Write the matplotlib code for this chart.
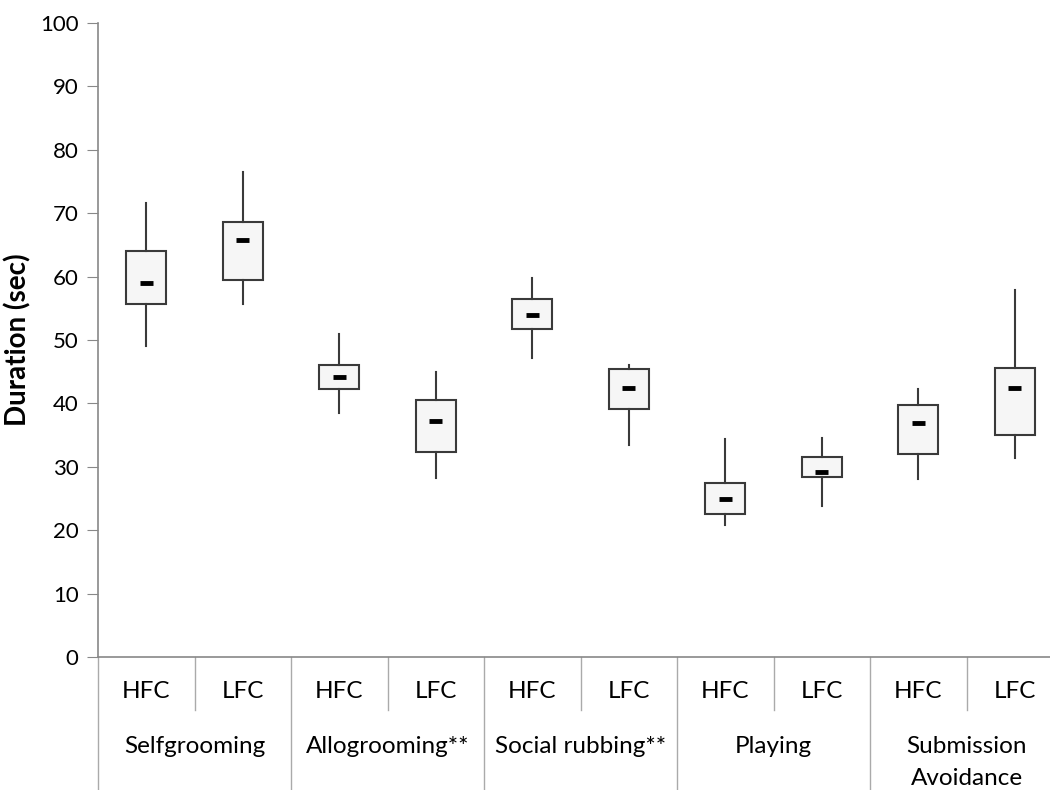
import numpy as np
import matplotlib.pyplot as plt

# 数据
groups = ['Selfgrooming', 'Allogrooming**', 'Social rubbing**', 'Playing', 'Submission\nAvoidance']
subs = ['HFC', 'LFC']

whislo = [49.1, 55.6, 38.5, 28.3, 47.2, 33.4, 20.8, 23.8, 28.0, 31.4]
q1     = [55.6, 59.5, 42.2, 32.4, 51.7, 39.1, 22.6, 28.4, 32.0, 35.0]
med    = [59.0, 65.8, 44.1, 37.3, 54.0, 42.4, 25.0, 29.2, 36.9, 42.5]
q3     = [64.0, 68.6, 46.1, 40.5, 56.4, 45.4, 27.5, 31.5, 39.7, 45.6]
whishi = [71.6, 76.5, 50.9, 45.0, 59.8, 46.0, 34.4, 34.5, 42.3, 57.9]

plt.rcParams['font.family'] = ['Lato', 'DejaVu Sans']

fig = plt.figure(figsize=(10.5, 7.9), dpi=100)
ax = fig.add_axes([98 / 1050, 133 / 790, 965 / 1050, 634 / 790])

pos = np.arange(len(med)) + 0.5
stats = []
for i in range(len(med)):
    stats.append(dict(whislo=whislo[i], q1=q1[i], med=med[i], q3=q3[i], whishi=whishi[i]))

ax.bxp(stats, positions=pos, widths=0.41, patch_artist=True, showcaps=False,
       showfliers=False,
       boxprops=dict(facecolor='#f6f6f6', edgecolor='#3a3a3a', linewidth=1.5),
       whiskerprops=dict(color='#3a3a3a', linewidth=1.5),
       medianprops=dict(visible=False))
# 中位数短横线
ax.hlines(med, pos - 0.065, pos + 0.065, color='black', linewidth=3.5, zorder=5)

ax.set_xlim(0, 10)
ax.set_ylim(0, 100)
ax.set_yticks(np.arange(0, 101, 10))
ax.tick_params(axis='y', labelsize=16, length=8, color='#888888', pad=6)
ax.set_xticks([])
ax.set_ylabel('Duration (sec)', fontsize=20, fontweight='bold', labelpad=6)

for s in ['top', 'right']:
    ax.spines[s].set_visible(False)
for s in ['left', 'bottom']:
    ax.spines[s].set_color('#888888')
    ax.spines[s].set_linewidth(1.2)

# 多级类别轴
trans = ax.get_xaxis_transform()
for i in range(len(med)):
    ax.text(pos[i], -0.055, subs[i % 2], transform=trans, ha='center', va='center', fontsize=17.5)
for g in range(len(groups)):
    ax.plot([2 * g + 1, 2 * g + 1], [0, -0.0836], transform=trans, color='#aaaaaa',
            linewidth=1, clip_on=False)
    ax.plot([2 * g, 2 * g], [0, -0.21], transform=trans, color='#aaaaaa',
            linewidth=1, clip_on=False)
    ax.text(2 * g + 1, -0.125, groups[g], transform=trans, ha='center', va='top',
            fontsize=17.5, linespacing=1.65)

fig.savefig('out.png', dpi=100)
